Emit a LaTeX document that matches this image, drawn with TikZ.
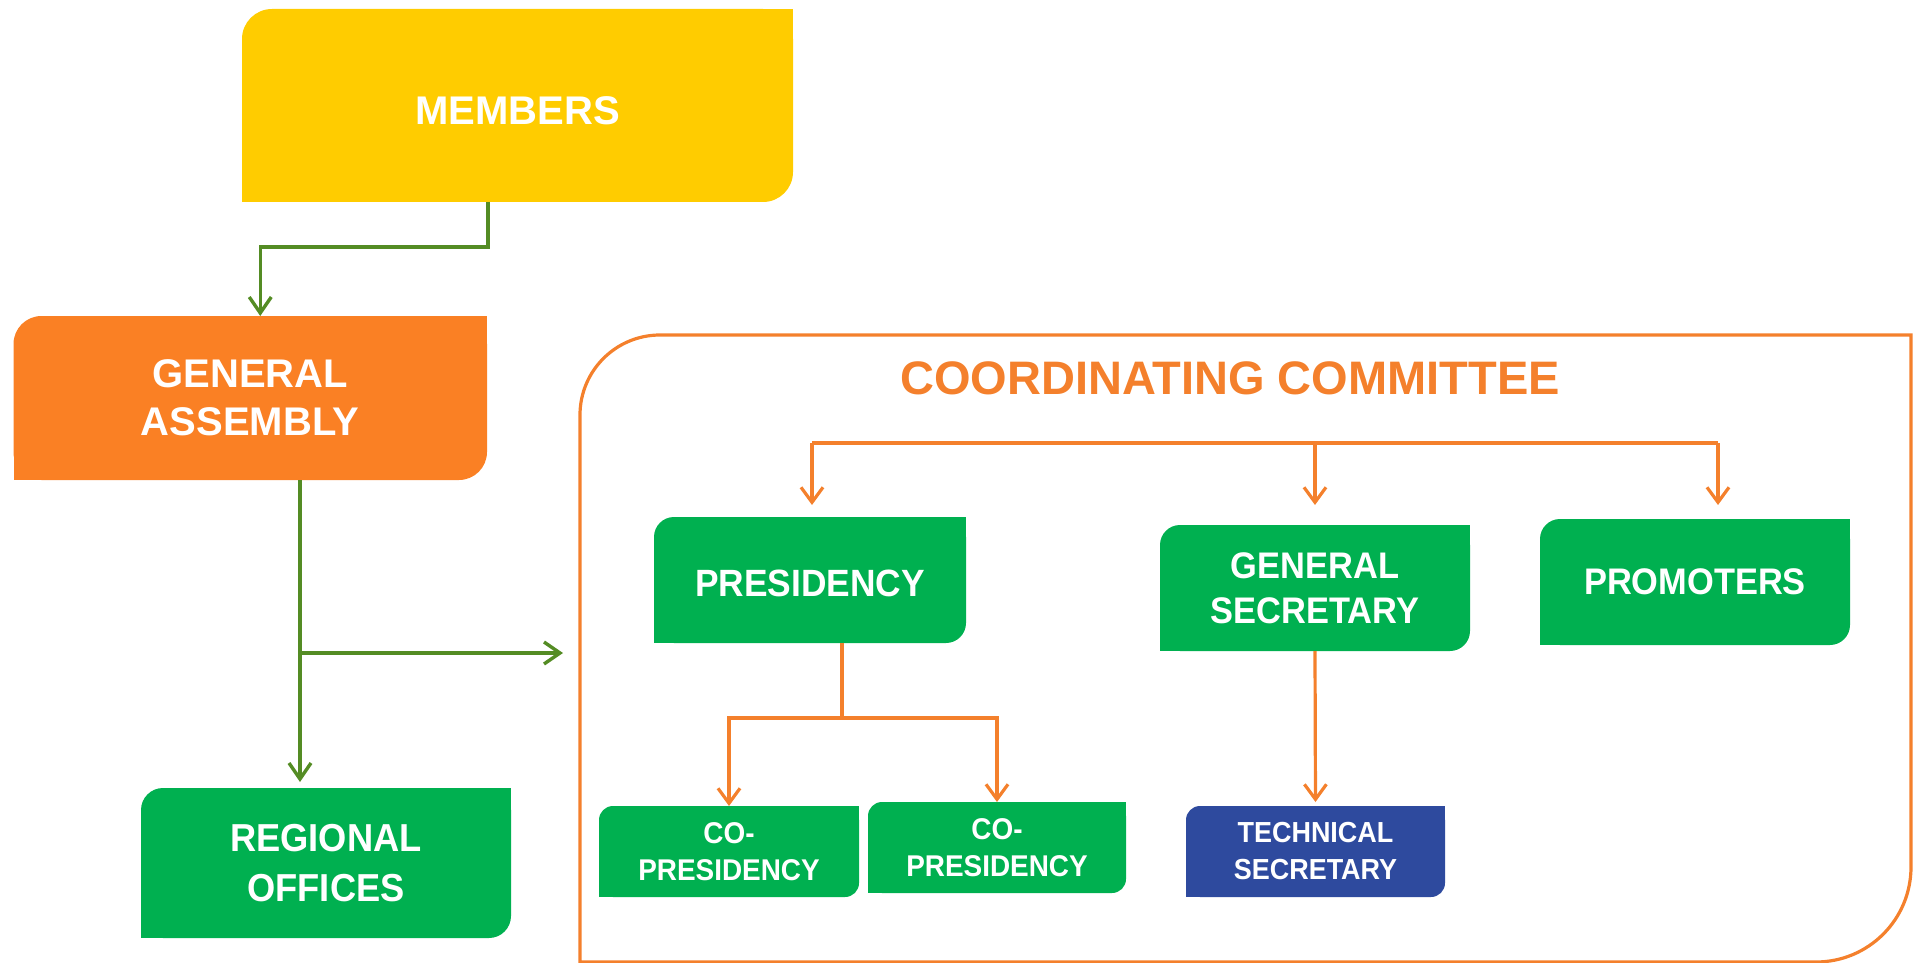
\documentclass[tikz,border=0pt]{standalone}
\usepackage{fontspec}
\setmainfont{Liberation Sans}
\newfontfamily\narrowf[FakeStretch=0.93]{Liberation Sans}
\usetikzlibrary{arrows.meta}
\definecolor{cyellow}{RGB}{255,204,0}
\definecolor{corange}{RGB}{250,128,36}
\definecolor{cgreen}{RGB}{0,176,80}
\definecolor{cblue}{RGB}{46,74,158}
\definecolor{cgline}{RGB}{84,140,36}
\definecolor{coline}{RGB}{244,128,44}
\newcommand\sqcorners[3]{%
  \fill[#2] (#1.north east) rectangle ([xshift=-#3,yshift=-#3]#1.north east);
  \fill[#2] (#1.south west) rectangle ([xshift=#3,yshift=#3]#1.south west);}
\newcommand\lowertext[2]{\raisebox{-#1}[\height][0pt]{#2}}
\begin{document}
\begin{tikzpicture}[x=0.5pt,y=0.5pt,
  box/.style={inner sep=0pt, outer sep=0pt, text=white, align=center},
  gline/.style={draw=cgline, line width=1.7pt},
  garr/.style={gline, -{Straight Barb[length=8pt,width=11pt,line width=1.7pt]}},
  oline/.style={draw=coline, line width=1.6pt},
  oarr/.style={oline, -{Straight Barb[length=7.5pt,width=11pt,line width=1.6pt]}},
  bigf/.style={font=\bfseries\fontsize{20}{24}\selectfont},
  midf/.style={font=\narrowf\bfseries\fontsize{19}{22.5}\selectfont},
  smallf/.style={font=\narrowf\bfseries\fontsize{15}{18.5}\selectfont}
]
\useasboundingbox (0,0) rectangle (1913,-963);

% top-level boxes
\node[box, bigf, fill=cyellow, rounded corners=15pt, minimum width=275.5pt, minimum height=96.5pt] (members) at (517.5,-105.5) {\lowertext{2.5pt}{MEMBERS}};
\sqcorners{members}{cyellow}{16pt}
\node[box, bigf, fill=corange, rounded corners=14pt, minimum width=236.75pt, minimum height=82pt] (ga) at (250.25,-398) {GENERAL\\ASSEMBLY};
\sqcorners{ga}{corange}{15pt}
\node[box, font=\narrowf\bfseries\fontsize{19.5}{25}\selectfont, fill=cgreen, rounded corners=11pt, minimum width=185pt, minimum height=75pt] (reg) at (326,-863) {REGIONAL\\OFFICES};
\sqcorners{reg}{cgreen}{12pt}

% coordinating committee frame
\node[inner sep=0pt, outer sep=0pt, minimum width=665.5pt, minimum height=313.5pt] (cc) at (1245.5,-648.5) {};
\draw[coline, line width=1.6pt] ([yshift=-40pt]cc.north west) arc[start angle=180, end angle=90, radius=40pt] -- (cc.north east) -- ([yshift=47.5pt]cc.south east) arc[start angle=0, end angle=-90, radius=47.5pt] -- (cc.south west) -- cycle;
\node[font=\bfseries\fontsize{23.5}{28}\selectfont, text=coline, inner sep=0pt] (title) at (1230,-378) {COORDINATING COMMITTEE};

% committee boxes
\node[box, midf, fill=cgreen, rounded corners=10pt, minimum width=156pt, minimum height=63pt] (pres) at (810,-580) {\lowertext{1.5pt}{PRESIDENCY}};
\sqcorners{pres}{cgreen}{11pt}
\node[box, font=\narrowf\bfseries\fontsize{18.5}{22.5}\selectfont, fill=cgreen, rounded corners=10pt, minimum width=155pt, minimum height=63pt] (gs) at (1315,-588) {GENERAL\\SECRETARY};
\sqcorners{gs}{cgreen}{11pt}
\node[box, font=\narrowf\bfseries\fontsize{18.5}{22.5}\selectfont, fill=cgreen, rounded corners=10pt, minimum width=155pt, minimum height=63pt] (prom) at (1695,-582) {PROMOTERS};
\sqcorners{prom}{cgreen}{11pt}
\node[box, smallf, fill=cgreen, rounded corners=7pt, minimum width=130pt, minimum height=45.5pt] (cp1) at (729,-851.5) {CO-\\PRESIDENCY};
\sqcorners{cp1}{cgreen}{8pt}
\node[box, smallf, fill=cgreen, rounded corners=7pt, minimum width=129pt, minimum height=45.5pt] (cp2) at (997,-847.5) {CO-\\PRESIDENCY};
\sqcorners{cp2}{cgreen}{8pt}
\node[box, font=\narrowf\bfseries\fontsize{14.5}{18.5}\selectfont, fill=cblue, rounded corners=7pt, minimum width=129.5pt, minimum height=45.5pt] (tech) at (1315.5,-851.5) {TECHNICAL\\SECRETARY};
\sqcorners{tech}{cblue}{8pt}

% green connectors
\coordinate (mb) at (488,-247);
\draw[garr] (members.south -| mb) -- (mb) -| ([xshift=5pt]ga.north);
\coordinate (gx) at (300,-653);
\draw[garr, shorten >=3pt] (ga.south -| gx) -- (reg.north -| gx);
\draw[garr, shorten >=8.5pt] (gx) -- (cc.west |- gx);

% orange connectors
\coordinate (tl) at (812,-443);
\coordinate (tr) at (1718,-443);
\draw[oline] (tl) -- (tr);
\draw[oarr, shorten >=6pt] (tl) -- (tl |- pres.north);
\draw[oarr, shorten >=10pt] (gs.north |- tl) -- (gs.north);
\draw[oarr, shorten >=7pt] (tr) -- (tr |- prom.north);
\coordinate (pj) at (842,-718);
\draw[oline] (pres.south -| pj) -- (pj);
\draw[oarr] (pj) -| (cp1.north);
\draw[oarr] (pj) -| (cp2.north);
\draw[oarr, shorten >=2pt] (gs.south) -- (tech.north);
\end{tikzpicture}
\end{document}
